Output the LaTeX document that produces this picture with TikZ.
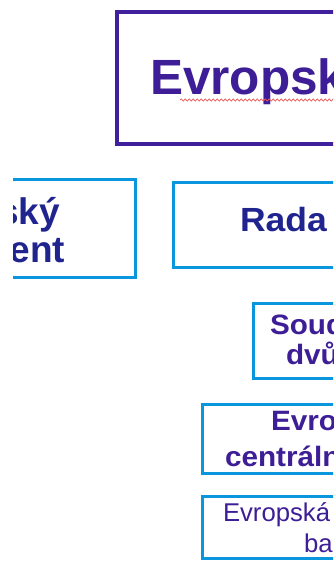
\documentclass[tikz,border=0pt]{standalone}
\usepackage{fontspec}
\setmainfont{Liberation Sans}
\usetikzlibrary{decorations.pathmorphing}
\definecolor{eupurple}{RGB}{64,32,156}
\definecolor{txtpurple}{RGB}{62,30,150}
\definecolor{txtnavy}{RGB}{32,36,142}
\definecolor{boxblue}{RGB}{10,150,220}
\definecolor{spellred}{RGB}{238,90,90}
\tikzset{
  x=1pt, y=1pt,
  topframe/.style={draw=eupurple, line width=3.4pt},
  blueframe/.style={draw=boxblue, line width=3pt},
  lbl/.style={inner sep=0pt, outer sep=0pt, anchor=base west},
}
\newcommand{\wide}[1]{\addfontfeatures{FakeStretch=#1}}
\begin{document}
\begin{tikzpicture}
\useasboundingbox (0,0) rectangle (333,-561);
\fill[white] (0,0) rectangle (333,-561);
\clip (13,0) rectangle (333,-561);
% frames
\draw[topframe] (117,-12) rectangle (420,-144);
\draw[blueframe] (-80,-180) rectangle (135,-277);
\draw[blueframe] (173,-182.5) rectangle (420,-267);
\draw[blueframe] (253,-303) rectangle (420,-378.5);
\draw[blueframe] (202,-404) rectangle (420,-473);
\draw[blueframe] (202,-496) rectangle (420,-558.5);
% texts
\node[lbl, text=txtpurple, font=\bfseries\fontsize{49.5}{49.5}\selectfont] (eu) at (150,-95) {Evropská unie};
\draw[spellred, line width=0.7pt, decorate, decoration={snake, amplitude=1.2pt, segment length=4pt}] (180,-100) -- (360,-100);
\node[lbl, anchor=base east, text=txtnavy, font=\bfseries\fontsize{37}{37}\selectfont] (ep1) at (60,-224) {Evropský};
\node[lbl, anchor=base east, text=txtnavy, font=\bfseries\fontsize{37}{37}\selectfont] (ep2) at (65,-262) {parlament};
\node[lbl, text=txtnavy, font=\bfseries\fontsize{33.5}{33.5}\selectfont\wide{1.06}] (rada) at (240,-231) {Rada EU};
\node[lbl, text=txtpurple, font=\bfseries\fontsize{28}{28}\selectfont\wide{1.06}] (sd1) at (270,-334) {Soudní};
\node[lbl, text=txtpurple, font=\bfseries\fontsize{28}{28}\selectfont\wide{1.06}] (sd2) at (286,-364) {dvůr};
\node[lbl, text=txtpurple, font=\bfseries\fontsize{28}{28}\selectfont\wide{1.06}] (ecb1) at (271,-430) {Evropská};
\node[lbl, text=txtpurple, font=\bfseries\fontsize{28}{28}\selectfont\wide{1.06}] (ecb2) at (225,-466) {centrální banka};
\node[lbl, text=txtpurple, font=\fontsize{25.7}{25.7}\selectfont] (eib1) at (223,-521.5) {Evropská investiční};
\node[lbl, text=txtpurple, font=\fontsize{25.7}{25.7}\selectfont] (eib2) at (304,-552) {banka};
\end{tikzpicture}
\end{document}
